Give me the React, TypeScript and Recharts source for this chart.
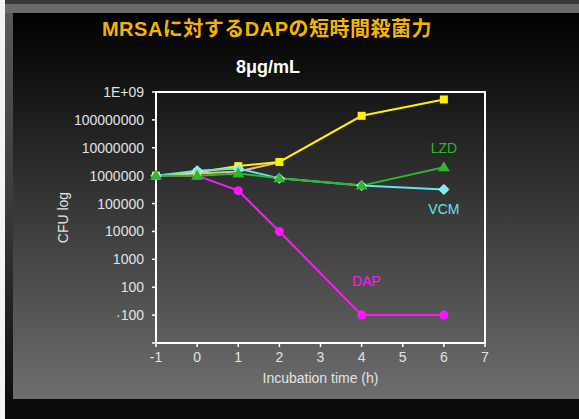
import React from 'react'
import { LineChart, Line, XAxis, YAxis, ReferenceArea, ReferenceDot } from 'recharts'

const hours = [-1, 0, 1, 2, 4, 6]
const controlCfu = [1000000, 1300000, 2200000, 3100000, 140000000, 540000000]
const controlEarlyCfu = [1000000, 1200000, 1400000, 3000000, null, null]
const dapCfu = [1000000, 1000000, 290000, 10000, 10, 10]
const vcmCfu = [1000000, 1500000, 1800000, 800000, 440000, 320000]
const lzdCfu = [1000000, 1000000, 1200000, 800000, 440000, 2000000]

const xTicks = [-1, 0, 1, 2, 3, 4, 5, 6, 7]
const yTicks = [1, 10, 100, 1000, 10000, 100000, 1000000, 10000000, 100000000, 1000000000]
const yTickLabels = ['', '·100', '100', '1000', '10000', '100000', '1000000', '10000000', '100000000', '1E+09']

const data = hours.map((h, i) => ({
    h,
    control: controlCfu[i],
    controlEarly: controlEarlyCfu[i],
    dap: dapCfu[i],
    vcm: vcmCfu[i],
    lzd: lzdCfu[i],
}))

const FONT = '"Liberation Sans", Arial, "Noto Sans CJK JP", sans-serif'

const Square = (props: any) => {
    const { cx, cy } = props
    if (cx == null || cy == null) return null
    return <rect x={cx - 4} y={cy - 4} width={8} height={8} fill='#fff200' />
}

const Triangle = (props: any) => {
    const { cx, cy } = props
    if (cx == null || cy == null) return null
    return <polygon points={`${cx},${cy - 6} ${cx + 6},${cy + 4} ${cx - 6},${cy + 4}`} fill='#2fb52f' />
}

const Diamond = (props: any) => {
    const { cx, cy } = props
    if (cx == null || cy == null) return null
    return <polygon points={`${cx},${cy - 5} ${cx + 5},${cy} ${cx},${cy + 5} ${cx - 5},${cy}`} fill='#6ff0f4' stroke='#c8ffff' strokeWidth={1} />
}

const Circle = (props: any) => {
    const { cx, cy } = props
    if (cx == null || cy == null) return null
    return <circle cx={cx} cy={cy} r={4.5} fill='#ff18ff' />
}

const tickStyle = { fill: '#e2e2e2', fontSize: 14, fontFamily: FONT }

const App = () => {
    return (
        <div style={{ position: 'absolute', left: 0, top: 0, width: 579, height: 419, background: '#0c0c0c', overflow: 'hidden', fontFamily: FONT }}>
            <div style={{ position: 'absolute', left: 0, top: 0, width: 5, height: 419, background: '#f4f4f4' }} />
            <div style={{ position: 'absolute', left: 5, top: 0, width: 574, height: 4, background: '#383838' }} />
            <div style={{ position: 'absolute', left: 5, top: 4, width: 574, height: 9, background: '#6a6a6a' }} />
            <div style={{ position: 'absolute', left: 5, top: 13, width: 8, height: 387, background: 'linear-gradient(#5a5a5a, #3a3a3a 50%, #0e0e0e)' }} />
            <div style={{ position: 'absolute', left: 13, top: 13, width: 566, height: 386, background: 'linear-gradient(#000000, #6e6e6e)' }} />
            <div style={{ position: 'absolute', left: 0, top: 17, width: 534, textAlign: 'center', color: '#f4b400', fontSize: 20, fontWeight: 'bold', letterSpacing: 0.5, lineHeight: '24px' }}>
                MRSAに対するDAPの短時間殺菌力
            </div>
            <div style={{ position: 'absolute', left: 0, top: 56, width: 536, textAlign: 'center', color: '#ffffff', fontSize: 18, fontWeight: 'bold', lineHeight: '22px' }}>
                8μg/mL
            </div>
            <div style={{ position: 'absolute', left: 0, top: 0 }}>
                <LineChart width={579} height={419} data={data} margin={{ top: 92, right: 94, left: 60, bottom: 46 }}>
                    <XAxis
                        dataKey='h'
                        type='number'
                        domain={[-1, 7]}
                        ticks={xTicks}
                        height={30}
                        tick={tickStyle}
                        tickSize={4}
                        tickMargin={5}
                        axisLine={{ stroke: '#ffffff', strokeWidth: 2 }}
                        tickLine={{ stroke: '#ffffff', strokeWidth: 1.5 }}
                        label={{ value: 'Incubation time (h)', position: 'bottom', offset: 0, fill: '#e2e2e2', fontSize: 14, fontFamily: FONT }}
                    />
                    <YAxis
                        type='number'
                        scale='log'
                        domain={[1, 1000000000]}
                        allowDataOverflow
                        ticks={yTicks}
                        width={96}
                        interval={0}
                        tick={tickStyle}
                        tickSize={4}
                        tickMargin={8}
                        tickFormatter={(v: number) => yTickLabels[yTicks.indexOf(v)] ?? ''}
                        axisLine={{ stroke: '#ffffff', strokeWidth: 2 }}
                        tickLine={{ stroke: '#ffffff', strokeWidth: 1.5 }}
                        label={{ value: 'CFU log', angle: -90, position: 'center', dx: -45, fill: '#e2e2e2', fontSize: 14, fontFamily: FONT }}
                    />
                    <ReferenceArea x1={-1} x2={7} y1={1} y2={1000000000} fill='none' stroke='#ffffff' strokeWidth={2} />
                    <Line dataKey='dap' stroke='#ff18ff' strokeWidth={2} dot={<Circle />} isAnimationActive={false} />
                    <Line dataKey='controlEarly' stroke='#f2b890' strokeWidth={2} dot={false} isAnimationActive={false} />
                    <Line dataKey='control' stroke='#fff200' strokeWidth={2} dot={<Square />} isAnimationActive={false} />
                    <Line dataKey='vcm' stroke='#5fe6ee' strokeWidth={2} dot={<Diamond />} isAnimationActive={false} />
                    <Line dataKey='lzd' stroke='#2fb52f' strokeWidth={2} dot={<Triangle />} isAnimationActive={false} />
                    <ReferenceDot x={6} y={10000000} r={0} fill='none' stroke='none' label={{ value: 'LZD', position: 'center', fill: '#2fb52f', fontSize: 14, fontFamily: FONT }} />
                    <ReferenceDot x={6} y={63000} r={0} fill='none' stroke='none' label={{ value: 'VCM', position: 'center', fill: '#5fe6ee', fontSize: 14, fontFamily: FONT }} />
                    <ReferenceDot x={4.12} y={166} r={0} fill='none' stroke='none' label={{ value: 'DAP', position: 'center', fill: '#ff18ff', fontSize: 14, fontFamily: FONT }} />
                </LineChart>
            </div>
        </div>
    )
}

export default App
